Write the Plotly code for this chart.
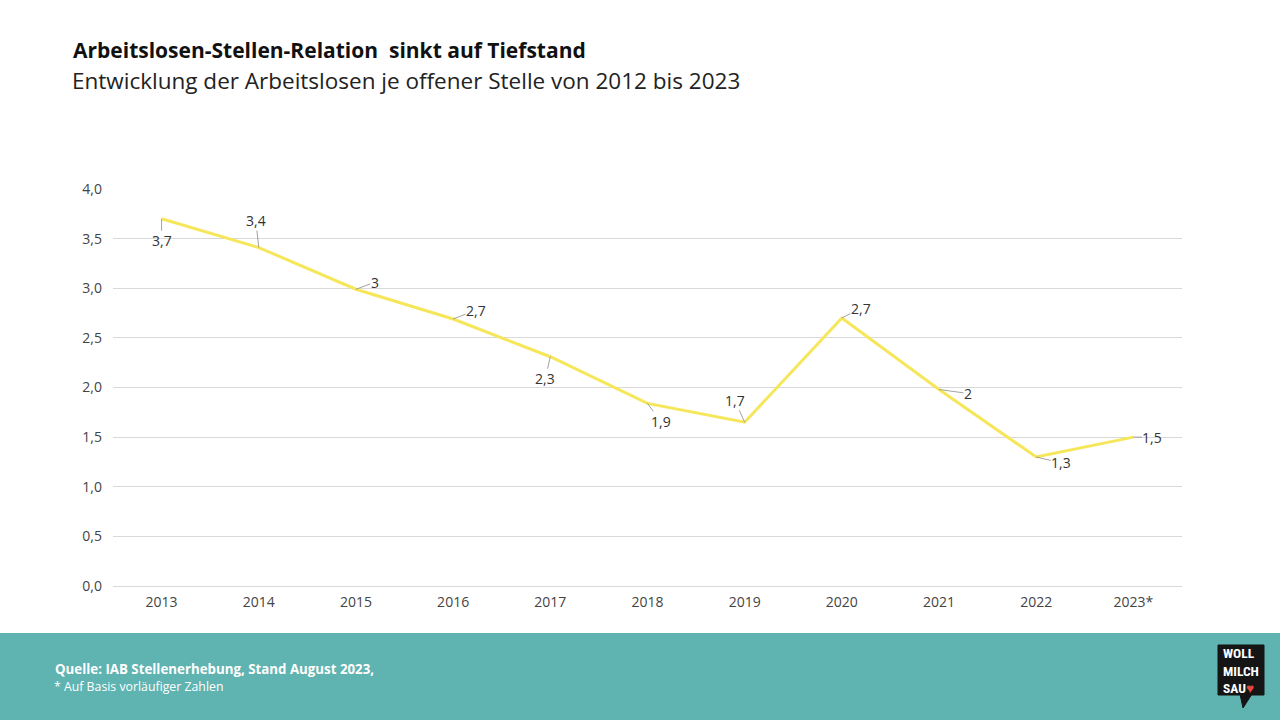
import plotly.graph_objects as go

years = ["2013", "2014", "2015", "2016", "2017", "2018", "2019", "2020", "2021", "2022", "2023*"]
values = [3.70, 3.41, 2.99, 2.69, 2.31, 1.84, 1.65, 2.70, 1.98, 1.30, 1.50]
value_labels = ["3,7", "3,4", "3", "2,7", "2,3", "1,9", "1,7", "2,7", "2", "1,3", "1,5"]
y_ticks = [0.0, 0.5, 1.0, 1.5, 2.0, 2.5, 3.0, 3.5, 4.0]

# label offsets (pixels) for leader-line annotations
label_offsets = [(0, 22), (-3, -27), (19, -7), (23, -9), (-5, 22), (13, 18),
                 (-10, -22), (19, -10), (29, 4), (25, 6), (19, 0)]

FONT = "Open Sans"
fig = go.Figure()
fig.add_trace(go.Scatter(
    x=years, y=values, mode="lines",
    line=dict(color="#F6E65A", width=3),
    hoverinfo="skip", showlegend=False,
))

for i, (v, txt, (dx, dy)) in enumerate(zip(values, value_labels, label_offsets)):
    fig.add_annotation(
        x=i, y=v, xref="x", yref="y", text=txt,
        showarrow=True, arrowhead=0, arrowwidth=0.8, arrowcolor="#8a8a8a",
        ax=dx, ay=dy, standoff=0, startstandoff=0,
        font=dict(family=FONT, size=14, color="#333333"),
        borderpad=0,
    )

def px(xp):
    return (xp - 113) / 1069

def py(yp):
    return (586 - yp) / 397

# title & subtitle
fig.add_annotation(
    xref="paper", yref="paper", xanchor="left", yanchor="middle",
    x=px(71), y=py(50),
    text="<b>Arbeitslosen-Stellen-Relation  sinkt auf Tiefstand</b>",
    showarrow=False, font=dict(family=FONT, size=21, color="#111111"),
)
fig.add_annotation(
    xref="paper", yref="paper", xanchor="left", yanchor="middle",
    x=px(70), y=py(80),
    text="Entwicklung der Arbeitslosen je offener Stelle von 2012 bis 2023",
    showarrow=False, font=dict(family=FONT, size=22.5, color="#222222"),
)

# footer band
fig.add_shape(type="rect", xref="paper", yref="paper",
              x0=px(0), x1=px(1280), y0=py(720), y1=py(633),
              fillcolor="#5FB3B0", line=dict(width=0), layer="below")
fig.add_annotation(
    xref="paper", yref="paper", xanchor="left", yanchor="middle",
    x=px(53), y=py(669),
    text="<b>Quelle: IAB Stellenerhebung, Stand August 2023,</b>",
    showarrow=False, font=dict(family=FONT, size=13.3, color="white"),
)
fig.add_annotation(
    xref="paper", yref="paper", xanchor="left", yanchor="middle",
    x=px(52), y=py(686),
    text="* Auf Basis vorläufiger Zahlen",
    showarrow=False, font=dict(family=FONT, size=12.3, color="white"),
)

# logo
fig.add_shape(type="rect", xref="paper", yref="paper",
              x0=px(1218), x1=px(1264), y0=py(695), y1=py(645),
              fillcolor="#151515", line=dict(color="#151515", width=1))
fig.add_shape(type="path", xref="paper", yref="paper",
              path=f"M {px(1240)},{py(694)} L {px(1252)},{py(694)} L {px(1243)},{py(708)} Z",
              fillcolor="#151515", line=dict(color="#151515", width=1))
fig.add_annotation(
    xref="paper", yref="paper", xanchor="center", yanchor="middle",
    x=px(1241), y=py(670),
    text="<b>WOLL<br>MILCH<br>SAU<span style='color:#E8473B'>♥</span></b>",
    showarrow=False, align="left",
    font=dict(family="Roboto Condensed, Roboto", size=13.5, color="white"),
)

fig.update_layout(
    width=1280, height=720,
    margin=dict(l=113, r=98, t=189, b=134),
    paper_bgcolor="white", plot_bgcolor="white",
    separators=",.",
    font=dict(family=FONT, color="#444444"),
    showlegend=False,
    xaxis=dict(
        type="category", range=[-0.5, 10.5],
        showgrid=False, showline=False, zeroline=False,
        ticks="", tickfont=dict(family=FONT, size=14, color="#444444"),
        ticklabelstandoff=6,
    ),
    yaxis=dict(
        range=[0, 4], tickvals=y_ticks, tickformat=".1f",
        showgrid=True, gridcolor="#D9D9D9", gridwidth=1,
        zeroline=True, zerolinecolor="#D9D9D9", zerolinewidth=1,
        showline=False, ticks="",
        tickfont=dict(family=FONT, size=14, color="#444444"),
        ticklabelstandoff=10,
    ),
)

fig.write_html("out.html", config={"displayModeBar": False},
               post_script="document.body.style.margin='0';document.body.style.overflow='hidden';")
